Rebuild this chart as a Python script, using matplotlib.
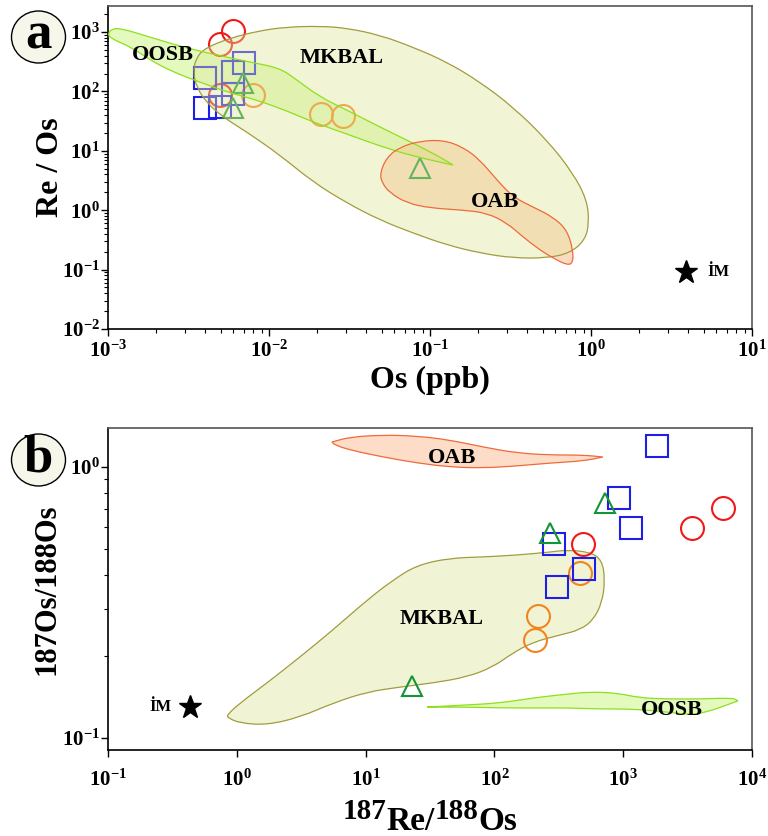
import numpy as np
import matplotlib
matplotlib.use("Agg")
import matplotlib.pyplot as plt
from matplotlib.patches import PathPatch, Ellipse
from matplotlib.path import Path
from matplotlib.ticker import LogLocator, NullLocator, NullFormatter, FuncFormatter
from matplotlib.transforms import IdentityTransform

plt.rcParams["font.family"] = ["Liberation Serif", "DejaVu Serif"]
plt.rcParams["font.weight"] = "bold"
plt.rcParams["mathtext.fontset"] = "custom"
plt.rcParams["mathtext.rm"] = "Liberation Serif:bold"
plt.rcParams["mathtext.bf"] = "Liberation Serif:bold"
plt.rcParams["mathtext.it"] = "Liberation Serif:bold:italic"

# ---------------- panel a : Os (ppb) vs Re/Os ----------------
a_red_os = [0.00597, 0.00497, 0.00497]
a_red_ratio = [1040, 628, 87]
a_orange_os = [0.00796, 0.0210, 0.0288]
a_orange_ratio = [87, 41.7, 38.6]
a_blue_os = [0.0070, 0.00597, 0.0040, 0.00597, 0.0040, 0.00497]
a_blue_ratio = [300, 212, 168, 90, 52.5, 54.6]
a_green_os = [0.0069, 0.00597, 0.0867]
a_green_ratio = [138, 52.5, 5.1]
a_im_os, a_im_ratio = 3.9, 0.091

# field outlines, log10 values
a_mkbal_lx = [-2.472, -2.453, -2.398, -2.242, -2.068, -1.901, -1.683, -1.516, -1.311,
              -1.106, -0.894, -0.689, -0.484, -0.273, -0.112, -0.025, -0.012, -0.037,
              -0.130, -0.273, -0.484, -0.689, -0.894, -1.106, -1.311, -1.516, -1.727,
              -1.932, -2.137, -2.286, -2.385, -2.447]
a_mkbal_ly = [2.327, 2.562, 2.731, 2.899, 3.017, 3.084, 3.101, 3.067, 2.949,
              2.747, 2.495, 2.158, 1.737, 1.182, 0.626, 0.172, -0.215, -0.502,
              -0.721, -0.805, -0.805, -0.721, -0.586, -0.384, -0.165, 0.121, 0.475,
              0.929, 1.316, 1.569, 1.805, 2.057]
a_oosb_lx = [-3.0, -2.975, -2.925, -2.739, -2.534, -2.323, -2.118, -1.932, -1.826,
             -1.683, -1.516, -1.311, -1.106, -0.938, -0.857,
             -1.106, -1.311, -1.516, -1.727, -1.932, -2.118, -2.261, -2.429, -2.596,
             -2.739, -2.845, -2.988]
a_oosb_ly = [2.983, 3.051, 3.067, 2.916, 2.747, 2.613, 2.495, 2.394, 2.192,
             1.906, 1.687, 1.401, 1.131, 0.896, 0.761,
             0.912, 1.081, 1.283, 1.485, 1.721, 1.889, 1.990, 2.158, 2.327,
             2.529, 2.731, 2.899]
a_oab_lx = [-1.311, -1.267, -1.186, -1.062, -0.919, -0.795, -0.689, -0.584, -0.484,
            -0.360, -0.236, -0.149, -0.112, -0.112, -0.149, -0.236, -0.317, -0.422,
            -0.522, -0.646, -0.795, -1.0, -1.143, -1.248, -1.298]
a_oab_ly = [0.626, 0.896, 1.064, 1.165, 1.182, 1.064, 0.845, 0.508, 0.222,
            0.054, -0.114, -0.333, -0.670, -0.889, -0.923, -0.805, -0.670, -0.451,
            -0.215, -0.047, 0.003, 0.037, 0.121, 0.290, 0.458]

# ---------------- panel b : 187Re/188Os vs 187Os/188Os ----------------
b_red_x = [5960, 3420, 488]
b_red_y = [0.706, 0.596, 0.520]
b_orange_x = [462, 218, 207]
b_orange_y = [0.406, 0.282, 0.230]
b_blue_x = [1830, 927, 1150, 290, 497, 306]
b_blue_y = [1.195, 0.768, 0.596, 0.520, 0.420, 0.361]
b_green_x = [723, 270, 22.9]
b_green_y = [0.737, 0.571, 0.156]
b_im_x, b_im_y = 0.434, 0.130

b_oab_lx = [0.739, 0.879, 1.135, 1.399, 1.655, 1.911, 2.175, 2.432, 2.688, 2.843,
            2.688, 2.432, 2.175, 1.911, 1.655, 1.399, 1.135, 0.879, 0.762]
b_oab_ly = [0.0923, 0.1107, 0.1181, 0.1144, 0.0996, 0.0738, 0.0517, 0.0443, 0.0443, 0.0369,
            0.0221, 0.0148, 0.0037, -0.0037, 0.0, 0.0148, 0.0369, 0.0627, 0.0812]
b_mkbal_lx = [-0.076, 0.025, 0.234, 0.491, 0.747, 1.011, 1.213, 1.399, 1.655, 1.911,
              2.175, 2.432, 2.564, 2.742, 2.835, 2.859, 2.835, 2.766, 2.665, 2.509,
              2.300, 2.144, 1.989, 1.787, 1.523, 1.267, 1.011, 0.747, 0.491, 0.234,
              0.025, -0.068]
b_mkbal_ly = [-0.915, -0.871, -0.797, -0.701, -0.601, -0.491, -0.417, -0.362, -0.336, -0.332,
              -0.325, -0.314, -0.306, -0.314, -0.343, -0.417, -0.502, -0.565, -0.601, -0.620,
              -0.646, -0.686, -0.738, -0.775, -0.797, -0.812, -0.830, -0.871, -0.923, -0.952,
              -0.945, -0.926]
b_oosb_lx = [1.477, 1.787, 2.043, 2.300, 2.564, 2.742, 2.952, 3.130, 3.340, 3.596, 3.852,
             3.891, 3.806, 3.651, 3.519, 3.340, 3.076, 2.820, 2.564, 2.300, 2.043, 1.787]
b_oosb_ly = [-0.886, -0.878, -0.871, -0.852, -0.838, -0.830, -0.834, -0.852, -0.856, -0.856, -0.852,
             -0.863, -0.878, -0.904, -0.915, -0.904, -0.893, -0.893, -0.889, -0.889, -0.889, -0.886]

W, H = 768, 836
RED, ORANGE, BLUE, GREEN = "#f01818", "#f2841e", "#1e1ee6", "#139436"
MK_FACE, MK_EDGE = "#dfe59a", "#a29c3e"
OA_FACE, OA_EDGE = "#fbb07a", "#f06a3a"
OO_FACE, OO_EDGE = "#c2f26e", "#8ee01c"


def px(x, y):
    return x / W, 1 - y / H


def smooth_path(lx, ly, corners=()):
    # closed outline drawn as quadratic curves through the read-off vertices;
    # vertices listed in corners stay sharp (pointed tips)
    p = np.column_stack([lx, ly])
    mids = (p + np.roll(p, -1, axis=0)) / 2
    verts = [mids[-1]]
    codes = [Path.MOVETO]
    for i in range(len(p)):
        verts += [p[i], mids[i]]
        if i in corners:
            codes += [Path.LINETO, Path.LINETO]
        else:
            codes += [Path.CURVE3, Path.CURVE3]
    verts = 10.0 ** np.array(verts)
    return Path(verts, codes)


def field(ax, lx, ly, face, edge, z_fill, z_edge, alpha=0.42, corners=()):
    path = smooth_path(lx, ly, corners)
    ax.add_patch(PathPatch(path, facecolor=face, alpha=alpha,
                           edgecolor="none", zorder=z_fill))
    ax.add_patch(PathPatch(path, facecolor="none", edgecolor=edge,
                           linewidth=0.9, zorder=z_edge))


def points(ax, x, y, marker, color, ms, z):
    ax.plot(x, y, linestyle="none", marker=marker, markersize=ms,
            markerfacecolor="none", markeredgecolor=color, markeredgewidth=1.5,
            zorder=z)


def sci(v, pos):
    return r"$\mathbf{10^{%d}}$" % int(round(np.log10(v)))


def style_axes(ax, xpad):
    for side in ["left", "bottom"]:
        ax.spines[side].set_color("black")
        ax.spines[side].set_linewidth(1.2)
    for side in ["top", "right"]:
        ax.spines[side].set_color("#555555")
        ax.spines[side].set_linewidth(1.2)
    ax.xaxis.set_major_formatter(FuncFormatter(sci))
    ax.yaxis.set_major_formatter(FuncFormatter(sci))
    ax.tick_params(which="major", direction="out", length=5, width=1.0,
                   labelsize=15)
    ax.tick_params(which="minor", direction="out", length=3, width=0.8)
    ax.tick_params(axis="x", pad=xpad)
    ax.tick_params(axis="y", pad=1)


def badge(fig, letter, cx, cy):
    x, y = px(cx, cy)
    fig.patches.append(Ellipse((x, y), 54 / W, 52 / H, transform=fig.transFigure,
                               facecolor="#f7f6ea", edgecolor="black", linewidth=1.0))
    fig.text(x, y + 2 / H, letter, fontsize=38, fontweight="bold",
             ha="center", va="center")


def split_label(fig, pieces, cx, base):
    # pieces: (text, fontsize, rise in px), laid out left to right in pixels
    renderer = fig.canvas.get_renderer()
    items = []
    for s, size, rise in pieces:
        t = fig.text(0, 0, s, fontsize=size, fontweight="bold", ha="left",
                     va="baseline", transform=IdentityTransform())
        items.append((t, rise, t.get_window_extent(renderer).width))
    pos = cx - sum(w for _, _, w in items) / 2
    for t, rise, w in items:
        t.set_position((pos, base + rise))
        pos += w


fig = plt.figure(figsize=(W / 100, H / 100), dpi=100)

# ---------------- panel a ----------------
ax1 = fig.add_axes([108 / W, 1 - 329 / H, 644 / W, 323 / H])
ax1.set_xscale("log")
ax1.set_yscale("log")
ax1.set_xlim(1e-3, 1e1)
ax1.set_ylim(1e-2, 2750)

# lime and orange fields sit under the samples, the MKBAL field veils them
field(ax1, a_oosb_lx, a_oosb_ly, OO_FACE, OO_EDGE, 1, 4.1, alpha=0.45, corners=(14,))
field(ax1, a_oab_lx, a_oab_ly, OA_FACE, OA_EDGE, 1.2, 4.2, alpha=0.45)

points(ax1, a_red_os, a_red_ratio, "o", RED, 16.5, 2)
points(ax1, a_orange_os, a_orange_ratio, "o", ORANGE, 16.5, 2)
points(ax1, a_blue_os, a_blue_ratio, "s", BLUE, 16.0, 2)
points(ax1, a_green_os, a_green_ratio, "^", GREEN, 14.0, 2)

field(ax1, a_mkbal_lx, a_mkbal_ly, MK_FACE, MK_EDGE, 3, 4, alpha=0.4)

ax1.plot([a_im_os], [a_im_ratio], linestyle="none", marker="*", markersize=17,
         color="black", zorder=5)
ax1.text(5.3, a_im_ratio, "İM", fontsize=12, fontweight="bold", ha="left",
         va="center", zorder=5)
ax1.text(0.0022, 410, "OOSB", fontsize=16, fontweight="bold", ha="center",
         va="center", zorder=6)
ax1.text(0.0284, 363, "MKBAL", fontsize=16, fontweight="bold", ha="center",
         va="center", zorder=6)
ax1.text(0.254, 1.37, "OAB", fontsize=16, fontweight="bold", ha="center",
         va="center", zorder=6)

ax1.xaxis.set_major_locator(LogLocator(base=10, numticks=10))
ax1.xaxis.set_minor_locator(LogLocator(base=10, subs=np.arange(2, 10), numticks=10))
ax1.yaxis.set_major_locator(LogLocator(base=10, numticks=10))
ax1.yaxis.set_minor_locator(LogLocator(base=10, subs=np.arange(2, 10), numticks=10))
ax1.xaxis.set_minor_formatter(NullFormatter())
ax1.yaxis.set_minor_formatter(NullFormatter())
style_axes(ax1, xpad=3)

fig.text(*px(51, 167), "Re / Os", fontsize=23, fontweight="bold", rotation=90,
         ha="center", va="center")
fig.text(*px(430, 380), "Os (ppb)", fontsize=23, fontweight="bold",
         ha="center", va="center")
badge(fig, "a", 38.5, 37)

# ---------------- panel b ----------------
ax2 = fig.add_axes([108 / W, 1 - 750 / H, 644 / W, 322 / H])
ax2.set_xscale("log")
ax2.set_yscale("log")
ax2.set_xlim(1e-1, 1e4)
ax2.set_ylim(0.0903, 1.393)

field(ax2, b_oab_lx, b_oab_ly, OA_FACE, OA_EDGE, 1, 1.5, alpha=0.42, corners=(0, 9))
field(ax2, b_mkbal_lx, b_mkbal_ly, MK_FACE, MK_EDGE, 1, 1.5, alpha=0.42)
field(ax2, b_oosb_lx, b_oosb_ly, OO_FACE, OO_EDGE, 1, 1.5, alpha=0.45, corners=(0, 11))

points(ax2, b_red_x, b_red_y, "o", RED, 16.5, 3)
points(ax2, b_orange_x, b_orange_y, "o", ORANGE, 16.5, 3)
points(ax2, b_blue_x, b_blue_y, "s", BLUE, 16.0, 3)
points(ax2, b_green_x, b_green_y, "^", GREEN, 14.0, 3)

ax2.plot([b_im_x], [b_im_y], linestyle="none", marker="*", markersize=17,
         color="black", zorder=5)
ax2.text(0.31, b_im_y, "İM", fontsize=12, fontweight="bold", ha="right",
         va="center", zorder=5)
ax2.text(46.9, 1.08, "OAB", fontsize=16, fontweight="bold", ha="center",
         va="center", zorder=6)
ax2.text(39.2, 0.275, "MKBAL", fontsize=16, fontweight="bold", ha="center",
         va="center", zorder=6)
ax2.text(2390, 0.127, "OOSB", fontsize=16, fontweight="bold", ha="center",
         va="center", zorder=6)

ax2.xaxis.set_major_locator(LogLocator(base=10, numticks=10))
ax2.xaxis.set_minor_locator(NullLocator())
ax2.yaxis.set_major_locator(LogLocator(base=10, numticks=10))
ax2.yaxis.set_minor_locator(LogLocator(base=10, subs=np.arange(2, 10), numticks=10))
ax2.yaxis.set_minor_formatter(NullFormatter())
style_axes(ax2, xpad=9)

fig.text(*px(47, 589), "187Os/188Os", fontsize=22, fontweight="bold", rotation=90,
         ha="center", va="center")
split_label(fig, [("187", 21, 11), ("Re/", 24, 0), ("188", 21, 11), ("Os", 24, 0)],
            430, H - 830)
badge(fig, "b", 38.5, 460)

fig.savefig("out.png", dpi=100)
